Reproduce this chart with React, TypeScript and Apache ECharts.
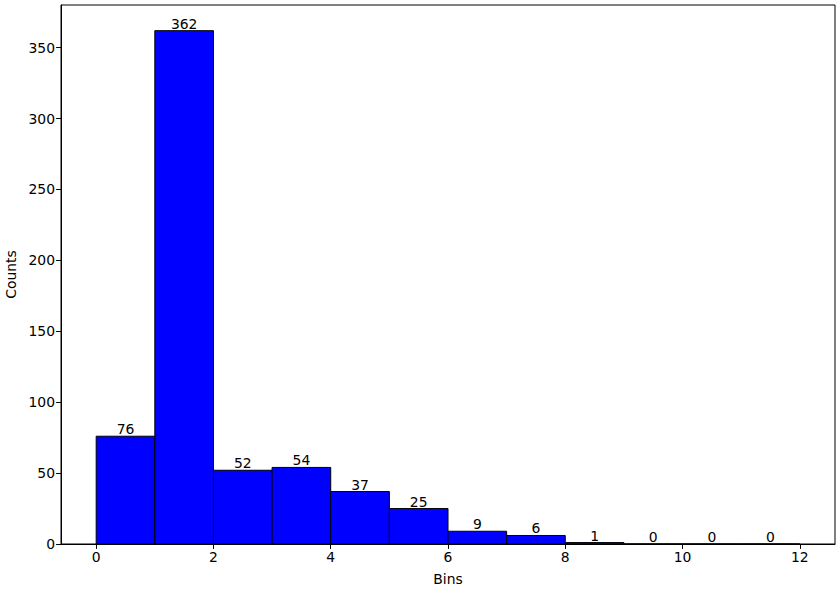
import React, { useEffect, useRef } from "react";
import * as echarts from "echarts";

const binStarts = [0, 1, 2, 3, 4, 5, 6, 7, 8, 9, 10, 11];
const binWidth = 1;
const counts = [76, 362, 52, 54, 37, 25, 9, 6, 1, 0, 0, 0];
const xTicks = [0, 2, 4, 6, 8, 10, 12];
const yTicks = [0, 50, 100, 150, 200, 250, 300, 350];

const FONT = "DejaVu Sans";
const FS = 13.9;

export default function App() {
  const ref = useRef<HTMLDivElement>(null);
  useEffect(() => {
    if (!ref.current) return;
    const chart = echarts.init(ref.current, null, { renderer: "svg" });
    const data = binStarts.map((s, i) => [s, s + binWidth, counts[i]]);
    chart.setOption({
      animation: false,
      backgroundColor: "#fff",
      textStyle: { fontFamily: FONT },
      grid: {
        left: 61,
        top: 5,
        width: 774,
        height: 539,
        show: true,
        borderColor: "#000",
        borderWidth: 1,
        backgroundColor: "transparent",
        containLabel: false,
        outerBoundsMode: "none",
      },
      xAxis: {
        type: "value",
        min: -0.6,
        max: 12.6,
        name: "Bins",
        nameLocation: "middle",
        nameGap: 28,
        nameTextStyle: { color: "#000", fontSize: FS, fontFamily: FONT, verticalAlign: "top" },
        axisLine: { show: true, onZero: false, lineStyle: { color: "#000", width: 1 } },
        axisTick: {
          show: true,
          length: 4.9,
          customValues: xTicks,
          lineStyle: { color: "#000", width: 1 },
        },
        axisLabel: {
          customValues: xTicks,
          color: "#000",
          fontSize: FS,
          fontFamily: FONT,
          margin: 6,
        },
        splitLine: { show: false },
      },
      yAxis: {
        type: "value",
        min: 0,
        max: 380.1,
        name: "Counts",
        nameLocation: "middle",
        nameGap: 42,
        nameRotate: 90,
        nameTextStyle: { color: "#000", fontSize: FS, fontFamily: FONT },
        axisLine: { show: true, onZero: false, lineStyle: { color: "#000", width: 1 } },
        axisTick: {
          show: true,
          length: 4.9,
          customValues: yTicks,
          lineStyle: { color: "#000", width: 1 },
        },
        axisLabel: {
          customValues: yTicks,
          color: "#000",
          fontSize: FS,
          fontFamily: FONT,
          margin: 6,
        },
        splitLine: { show: false },
      },
      series: [
        {
          type: "custom",
          data,
          renderItem: (params: any, api: any) => {
            const x0 = api.value(0);
            const x1 = api.value(1);
            const y = api.value(2);
            const p0 = api.coord([x0, y]);
            const p1 = api.coord([x1, 0]);
            return {
              type: "group",
              children: [
                {
                  type: "rect",
                  shape: { x: p0[0], y: p0[1], width: p1[0] - p0[0], height: p1[1] - p0[1] },
                  style: { fill: "#0000ff", stroke: "#000", lineWidth: 1 },
                },
                {
                  type: "text",
                  x: (p0[0] + p1[0]) / 2,
                  y: p0[1],
                  style: {
                    text: String(y),
                    fill: "#000",
                    fontSize: FS,
                    fontFamily: FONT,
                    align: "center",
                    verticalAlign: "bottom",
                  },
                },
              ],
            };
          },
        },
      ],
    });
    return () => chart.dispose();
  }, []);
  return (
    <div
      ref={ref}
      style={{ position: "fixed", left: 0, top: 0, width: 840, height: 592, background: "#fff" }}
    />
  );
}
